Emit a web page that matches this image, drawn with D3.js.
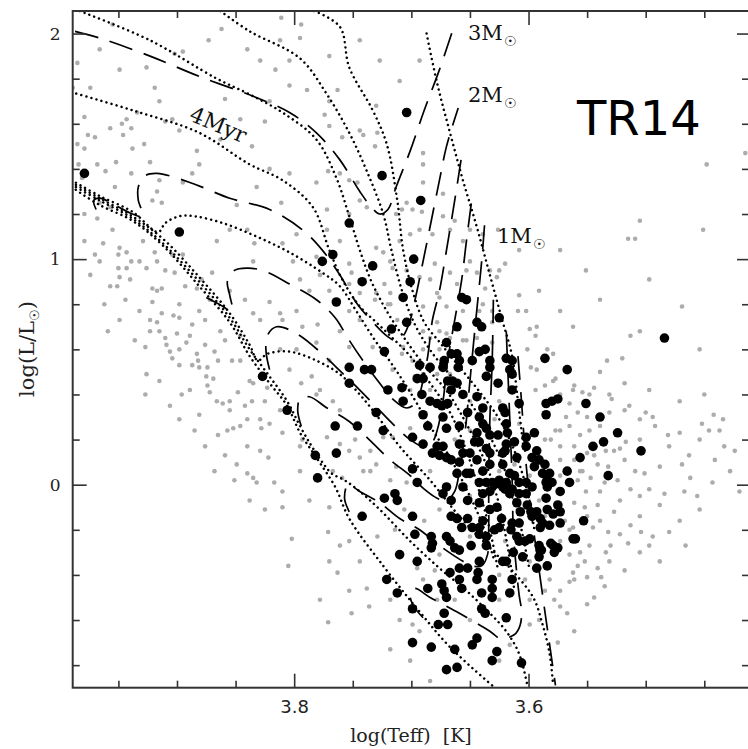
<!DOCTYPE html>
<html lang="en">
<head>
<meta charset="UTF-8">
<title>TR14 HR diagram</title>
<script src="https://d3js.org/d3.v7.min.js"></script>
<style>
  html, body { margin: 0; padding: 0; background: #fff; }
  svg { display: block; }
</style>
</head>
<body>
<div id="chart"></div>
<script>
// axis ticks
const xMajor = [3.8, 3.6];
const xMinor = [3.95, 3.9, 3.85, 3.75, 3.7, 3.65, 3.55, 3.5, 3.45];
const yMajor = [0, 1, 2];
const yMinor = [-0.8, -0.6, -0.4, -0.2, 0.2, 0.4, 0.6, 0.8, 1.2, 1.4, 1.6, 1.8];

// evolutionary tracks [logTeff, logL]
const track3 = [[3.987,2.01],[3.966,1.98],[3.923,1.90],[3.881,1.81],[3.834,1.72],[3.804,1.65],[3.781,1.56],[3.761,1.44],[3.744,1.30],[3.734,1.23],[3.727,1.20],[3.720,1.22],[3.713,1.32],[3.701,1.48],[3.689,1.66],[3.676,1.84],[3.665,2.01]];
const track2 = [[3.969,1.22],[3.971,1.26],[3.966,1.27],[3.953,1.24],[3.938,1.20],[3.929,1.19],[3.933,1.26],[3.933,1.32],[3.927,1.37],[3.917,1.38],[3.889,1.34],[3.855,1.27],[3.821,1.22],[3.793,1.13],[3.776,1.04],[3.761,0.93],[3.746,0.80],[3.731,0.71],[3.721,0.66],[3.714,0.64],[3.707,0.66],[3.701,0.73],[3.696,0.84],[3.690,0.99],[3.683,1.17],[3.676,1.35],[3.670,1.50],[3.660,1.67]];
const track15 = [[3.875,0.83],[3.864,0.80],[3.853,0.77],[3.855,0.84],[3.857,0.90],[3.851,0.95],[3.840,0.96],[3.827,0.95],[3.804,0.89],[3.781,0.82],[3.765,0.74],[3.753,0.64],[3.740,0.54],[3.727,0.45],[3.716,0.38],[3.704,0.34],[3.695,0.37],[3.691,0.44],[3.686,0.57],[3.682,0.73],[3.676,0.86],[3.670,1.04],[3.663,1.26],[3.657,1.46]];
const track12 = [[3.821,0.51],[3.824,0.59],[3.823,0.66],[3.815,0.70],[3.798,0.67],[3.776,0.58],[3.764,0.52],[3.748,0.44],[3.731,0.35],[3.714,0.26],[3.701,0.20],[3.690,0.17],[3.682,0.19],[3.678,0.24],[3.673,0.37],[3.669,0.55],[3.663,0.73],[3.657,0.91],[3.653,1.08],[3.648,1.28]];
const track10 = [[3.794,0.26],[3.797,0.33],[3.795,0.38],[3.787,0.39],[3.772,0.34],[3.753,0.28],[3.736,0.20],[3.718,0.11],[3.701,0.04],[3.689,-0.02],[3.678,-0.06],[3.670,-0.07],[3.663,-0.03],[3.659,0.06],[3.654,0.24],[3.650,0.46],[3.645,0.73],[3.640,0.99],[3.637,1.19]];
const track09 = [[3.753,-0.12],[3.757,-0.06],[3.754,0.00],[3.744,-0.03],[3.727,-0.08],[3.710,-0.15],[3.693,-0.20],[3.676,-0.27],[3.659,-0.33],[3.648,-0.36],[3.640,-0.36],[3.635,-0.31],[3.634,-0.20],[3.634,0.02],[3.633,0.29],[3.631,0.55],[3.630,0.82]];
const track08 = [[3.690,-0.59],[3.699,-0.53],[3.701,-0.48],[3.697,-0.46],[3.684,-0.50],[3.659,-0.57],[3.633,-0.65],[3.625,-0.68],[3.619,-0.68],[3.611,-0.66],[3.607,-0.62],[3.606,-0.56],[3.608,-0.49],[3.611,-0.34],[3.613,-0.20],[3.614,0.02],[3.616,0.29],[3.618,0.55],[3.619,0.68]];
const track07 = [[3.609,0.57],[3.606,0.37],[3.603,0.15],[3.599,-0.07],[3.592,-0.34],[3.585,-0.60],[3.577,-0.89]];

// isochrones [logTeff, logL]
const iso1 = [[3.687,2.00],[3.678,1.78],[3.667,1.56],[3.656,1.35],[3.644,1.14],[3.633,0.93],[3.623,0.74],[3.614,0.57],[3.609,0.37],[3.604,0.15]];
const iso2 = [[3.783,2.10],[3.761,2.03],[3.753,1.85],[3.733,1.66],[3.721,1.51],[3.712,1.26],[3.707,1.04],[3.699,0.86],[3.689,0.72],[3.674,0.62],[3.657,0.51],[3.640,0.40],[3.625,0.29],[3.612,0.15],[3.601,-0.03],[3.595,-0.20]];
const iso3 = [[3.863,2.10],[3.838,2.01],[3.795,1.89],[3.772,1.73],[3.753,1.56],[3.738,1.39],[3.724,1.20],[3.717,1.04],[3.708,0.86],[3.697,0.71],[3.683,0.59],[3.663,0.46],[3.643,0.31],[3.627,0.15],[3.614,-0.03],[3.606,-0.20],[3.599,-0.38]];
const iso4 = [[3.983,2.10],[3.923,1.97],[3.866,1.80],[3.838,1.73],[3.810,1.65],[3.781,1.53],[3.764,1.36],[3.753,1.19],[3.744,1.04],[3.734,0.90],[3.721,0.77],[3.706,0.65],[3.689,0.53],[3.669,0.41],[3.652,0.26],[3.637,0.10],[3.626,-0.07],[3.618,-0.27],[3.612,-0.47]];
const iso5 = [[3.990,1.74],[3.938,1.66],[3.881,1.56],[3.838,1.42],[3.810,1.35],[3.784,1.23],[3.770,1.04],[3.759,0.91],[3.744,0.79],[3.730,0.72],[3.716,0.65],[3.701,0.57],[3.684,0.45],[3.667,0.32],[3.653,0.15],[3.642,-0.03],[3.633,-0.20],[3.626,-0.38]];
const iso6 = [[3.990,1.35],[3.966,1.28],[3.938,1.21],[3.916,1.12],[3.910,1.16],[3.898,1.19],[3.885,1.19],[3.861,1.16],[3.832,1.10],[3.804,1.03],[3.776,0.94],[3.761,0.88],[3.747,0.77],[3.731,0.64],[3.716,0.53],[3.701,0.41],[3.684,0.26],[3.667,0.12],[3.652,-0.03],[3.639,-0.18],[3.629,-0.34]];
const iso7 = [[3.990,1.34],[3.966,1.27],[3.938,1.19],[3.912,1.09],[3.881,0.92],[3.855,0.76],[3.838,0.62],[3.831,0.55],[3.823,0.58],[3.804,0.59],[3.781,0.55],[3.761,0.49],[3.744,0.40],[3.727,0.29],[3.710,0.17],[3.684,0.02],[3.659,-0.14],[3.633,-0.28],[3.614,-0.38],[3.596,-0.50],[3.588,-0.62],[3.582,-0.75],[3.579,-0.89]];
const iso8 = [[3.990,1.33],[3.966,1.26],[3.938,1.18],[3.912,1.07],[3.881,0.90],[3.855,0.74],[3.838,0.60],[3.821,0.48],[3.806,0.37],[3.795,0.26],[3.785,0.17],[3.776,0.10],[3.768,0.05],[3.757,0.02],[3.744,-0.03],[3.727,-0.11],[3.701,-0.25],[3.676,-0.37],[3.653,-0.47],[3.633,-0.57],[3.619,-0.65],[3.608,-0.75],[3.601,-0.89]];
const zams = [[3.990,1.32],[3.966,1.24],[3.938,1.17],[3.912,1.06],[3.881,0.88],[3.855,0.72],[3.838,0.57],[3.821,0.45],[3.806,0.35],[3.795,0.23],[3.781,0.12],[3.765,-0.01],[3.753,-0.15],[3.724,-0.36],[3.695,-0.55],[3.667,-0.72],[3.631,-0.89]];

// field stars (grey) [logTeff, logL]
const fieldStars = [
[3.955,2.04],[3.862,2.02],[3.873,1.97],[3.902,1.91],[3.895,1.92],[3.985,1.87],[3.926,1.85],[3.919,1.76],[3.989,1.76],[3.974,1.76],[3.859,1.71],[3.979,1.63],[3.943,1.62],[3.934,1.65],[3.904,1.62],[3.910,1.61],[3.957,1.58],[3.947,1.60],[3.939,1.58],[3.976,1.55],[3.970,1.54],[3.985,1.51],[3.946,1.55],[3.928,1.51],[3.979,1.49],[3.938,1.49],[3.883,1.48],[3.923,1.43],[3.952,1.43],[3.968,1.42],[3.961,1.39],[3.939,1.38],[3.984,1.42],[3.887,1.38],[3.915,1.35],[3.895,1.34],[3.981,1.36],[3.953,1.32],[3.917,1.30],[3.921,1.26],[3.913,1.25],[3.849,1.24],[3.966,1.25],[3.957,1.23],[3.979,1.20],[3.968,1.18],[3.855,1.13],[3.840,1.13],[3.866,1.08],[3.955,1.13],[3.963,1.07],[3.949,1.05],[3.929,1.08],[3.840,1.93],
[3.811,2.07],[3.794,2.04],[3.795,1.98],[3.804,1.88],[3.816,1.84],[3.789,1.75],[3.763,1.75],[3.770,1.70],[3.825,1.61],[3.774,1.64],[3.770,1.59],[3.759,1.54],[3.744,1.57],[3.741,1.55],[3.730,1.68],[3.729,1.56],[3.731,1.50],[3.690,1.47],[3.690,1.42],[3.781,1.34],[3.821,1.40],[3.804,1.38],[3.836,1.50],[3.761,1.38],[3.753,1.35],[3.746,1.34],[3.772,1.22],[3.744,1.26],[3.738,1.23],[3.713,1.20],[3.708,1.22],[3.704,1.25],[3.699,1.22],[3.691,1.21],[3.690,1.34],[3.673,1.19],[3.834,1.07],[3.810,1.07],[3.798,1.11],[3.772,1.13],[3.761,1.08],[3.753,1.20],[3.701,1.11],[3.693,1.13],[3.682,1.11],[3.667,1.13],[3.663,1.17],[3.656,1.08],[3.673,1.29],[3.650,1.13],[3.639,1.11],[3.626,1.13],[3.771,1.39],[3.832,1.32],[3.811,1.25],[3.710,1.08],[3.730,1.05],
[3.710,1.79],[3.693,1.88],[3.727,1.88],[3.744,1.97],[3.770,1.90],[3.804,1.77],[3.821,1.70],[3.846,1.62],[3.863,1.53],[3.881,1.42],[3.898,1.57],[3.915,1.70],[3.949,1.84],[3.966,1.93],[3.829,1.88],[3.812,1.97],
[3.415,1.47],[3.448,1.42],[3.505,1.17],[3.515,1.09],[3.509,1.09],[3.451,1.13],
[3.650,0.99],[3.625,0.95],[3.608,1.04],[3.591,0.86],[3.573,0.77],[3.539,0.82],[3.505,0.68],[3.454,0.60],[3.497,0.91],[3.573,1.04],
[3.950,0.96],[3.943,0.96],[3.939,0.99],[3.950,1.02],[3.943,1.03],[3.926,0.96],[3.919,1.03],[3.917,0.99],[3.904,1.02],[3.895,1.02],[3.949,0.92],[3.940,0.91],[3.951,0.88],[3.921,0.87],[3.917,0.86],[3.913,0.87],[3.921,0.81],[3.902,0.94],[3.879,0.91],[3.870,0.94],[3.883,0.87],[3.898,0.80],[3.913,0.76],[3.917,0.72],[3.903,0.75],[3.898,0.74],[3.887,0.71],[3.876,0.73],[3.959,0.68],[3.927,0.61],[3.923,0.68],[3.910,0.65],[3.900,0.67],[3.909,0.62],[3.906,0.59],[3.904,0.56],[3.898,0.60],[3.892,0.63],[3.883,0.58],[3.882,0.55],[3.898,0.53],[3.887,0.53],[3.881,0.52],[3.926,0.49],[3.874,0.52],[3.875,0.48],[3.869,0.47],[3.865,0.55],[3.853,0.55],[3.846,0.55],[3.874,0.44],[3.872,0.41],[3.896,0.40],[3.866,0.37],[3.861,0.36],[3.855,0.37],[3.848,0.41],[3.881,0.31],[3.865,0.22],[3.857,0.24],[3.852,0.25],[3.846,0.26],[3.840,0.29],[3.840,0.17],[3.849,0.09],[3.840,0.05],
[3.966,0.99],[3.957,0.88],[3.944,0.82],[3.932,0.77],[3.923,0.73],[3.915,0.68],[3.936,0.64],[3.889,0.66],[3.876,0.62],[3.868,0.59],[3.859,0.64],[3.889,0.42],[3.906,0.35],[3.898,0.29],[3.885,0.24],[3.876,0.17],[3.859,0.13],[3.851,0.02],[3.868,0.06],[3.838,-0.07],[3.825,-0.11],[3.915,0.46],[3.927,0.40],[3.949,0.73],[3.962,0.80],[3.974,0.93],[3.979,1.08],[3.970,1.02],[3.932,0.99],[3.910,0.95],[3.893,0.88],[3.872,0.82],[3.855,0.86],[3.842,0.82],[3.881,0.77],[3.863,0.68],[3.846,0.66],[3.838,0.46],[3.825,0.37],[3.855,0.33],[3.842,0.35],[3.829,0.29],
[3.835,0.99],[3.801,0.99],[3.781,1.01],[3.753,0.98],[3.751,0.94],[3.724,1.03],[3.718,0.99],[3.716,0.96],[3.753,0.89],[3.778,0.93],[3.744,0.85],[3.730,0.85],[3.723,0.89],[3.718,0.85],[3.704,0.95],[3.693,0.92],[3.684,0.91],[3.680,0.98],[3.667,0.94],[3.661,0.89],[3.653,0.95],[3.644,0.94],[3.633,0.95],[3.627,0.92],[3.637,0.87],[3.678,0.85],[3.670,0.79],[3.656,0.77],[3.639,0.80],[3.631,0.77],[3.631,0.72],[3.678,0.72],[3.676,0.68],[3.690,0.68],[3.684,0.65],[3.667,0.65],[3.653,0.64],[3.644,0.65],[3.631,0.63],[3.690,0.60],[3.676,0.60],[3.821,0.81],[3.810,0.73],[3.798,0.77],[3.793,0.70],[3.780,0.71],[3.829,0.73],[3.835,0.76],[3.812,0.76],[3.753,0.61],[3.761,0.68],[3.733,0.61],[3.720,0.80],[3.712,0.73],[3.708,0.58],[3.699,0.55],[3.690,0.49],[3.678,0.49],[3.667,0.49],[3.697,0.48],[3.701,0.42],[3.798,0.60],[3.781,0.63],[3.770,0.55],[3.785,0.48],[3.835,0.45],[3.836,0.37],[3.823,0.43],[3.810,0.23],[3.793,0.20],[3.795,0.17],[3.829,0.15],[3.822,0.12],[3.835,0.03],[3.832,0.01],[3.817,0.01],[3.810,-0.03],[3.772,0.21],[3.761,0.18],[3.753,0.15],[3.744,0.12],[3.735,0.15],[3.724,0.21],[3.701,0.25],[3.767,0.06],[3.759,0.03],[3.741,0.06],[3.730,0.09],[3.713,0.08],[3.704,0.01],[3.821,0.27],[3.828,0.25],[3.812,0.33],[3.767,0.37],[3.781,0.40],[3.794,0.45],
[3.795,0.91],[3.787,0.86],[3.770,0.86],[3.753,0.77],[3.744,0.73],[3.731,0.82],[3.812,0.60],[3.804,0.51],[3.778,0.42],[3.761,0.33],[3.748,0.20],[3.735,0.06],[3.718,0.02],[3.795,0.06],[3.787,-0.07],[3.753,-0.25],[3.744,-0.34],[3.718,-0.51],[3.710,-0.60],[3.753,-0.47],[3.770,-0.34],[3.778,-0.51],[3.718,-0.73],[3.701,-0.78],[3.684,-0.87],
[3.718,0.80],[3.676,0.83],[3.690,0.79],[3.642,0.77],[3.602,0.77],[3.593,0.70],[3.579,0.58],[3.593,0.51],[3.579,0.46],[3.562,0.42],[3.625,0.37],[3.650,0.24],[3.608,0.27],[3.573,0.24],[3.716,0.21],[3.670,0.67],[3.656,0.64],[3.707,0.61],[3.716,0.51],[3.684,0.42],[3.650,0.37],[3.629,0.29],[3.663,0.20],[3.612,0.09],[3.599,0.04],[3.650,-0.05],[3.676,-0.11],[3.620,-0.25],[3.650,-0.23],[3.625,-0.40],[3.603,-0.42],[3.599,-0.51],[3.676,-0.31],[3.663,-0.51],[3.650,-0.60],[3.625,-0.51],[3.599,-0.62],[3.586,-0.47],[3.573,-0.47],[3.569,-0.16],[3.608,-0.09],[3.591,-0.07],[3.573,0.04],[3.586,0.20],[3.625,0.06],[3.684,0.06],[3.706,-0.11],[3.689,-0.16],[3.714,-0.20],[3.693,-0.65],[3.625,-0.78],[3.616,-0.71],
[3.620,0.98],[3.551,0.95],[3.608,0.84],[3.609,0.77],[3.469,0.79],[3.599,0.69],[3.562,0.70],[3.594,0.66],[3.513,0.66],[3.584,0.60],[3.601,0.60],[3.533,0.55],[3.520,0.56],[3.518,0.45],[3.598,0.52],[3.594,0.42],[3.577,0.47],[3.561,0.44],[3.565,0.36],[3.554,0.41],[3.544,0.43],[3.558,0.32],[3.568,0.30],[3.531,0.32],[3.550,0.30],[3.539,0.26],[3.505,0.29],[3.500,0.32],[3.494,0.30],[3.471,0.23],[3.452,0.27],[3.446,0.24],[3.442,0.31],[3.434,0.29],[3.481,0.22],[3.517,0.19],[3.556,0.22],[3.577,0.24],[3.581,0.20],[3.573,0.17],[3.561,0.17],[3.550,0.14],[3.534,0.15],[3.527,0.15],[3.541,0.09],[3.532,0.08],[3.518,0.11],[3.509,0.06],[3.501,0.05],[3.488,0.08],[3.469,0.09],[3.462,0.03],[3.443,0.01],[3.433,0.17],[3.561,0.11],[3.554,0.06],[3.547,0.03],[3.558,0.02],[3.551,-0.03],[3.535,0.01],[3.524,0.02],[3.513,-0.02],[3.497,-0.02],[3.484,-0.04],[3.467,-0.03],[3.456,-0.05],[3.573,0.11],
[3.548,0.40],[3.529,0.38],[3.514,0.35],[3.492,0.26],[3.480,0.17],[3.463,0.13],[3.454,0.20],[3.441,0.11],[3.428,0.06],[3.573,-0.09],[3.586,-0.14],[3.539,-0.16],[3.522,-0.22],[3.497,-0.27],[3.488,-0.34],[3.548,-0.27],[3.561,-0.42],[3.578,-0.51],[3.591,-0.60],[3.522,-0.07],[3.505,-0.05],[3.488,-0.09],[3.539,-0.03],[3.556,0.06],[3.544,0.13],[3.522,0.16],[3.505,0.20],[3.565,0.26],[3.548,0.24],[3.531,0.40],[3.518,0.33],[3.573,0.40],[3.586,0.44],[3.539,0.50],[3.497,0.42],[3.471,0.37],[3.450,0.40],[3.437,0.24],[3.424,0.15],[3.420,-0.03],[3.454,-0.11],[3.471,-0.16],[3.505,-0.14],[3.573,-0.25],[3.565,-0.20],[3.552,-0.10],[3.531,-0.34],[3.518,-0.38],[3.582,-0.42],[3.599,-0.34],
[3.810,-0.10],[3.770,-0.10],[3.802,-0.24],[3.805,-0.36],[3.771,-0.21],[3.761,-0.27],[3.763,-0.39],[3.738,-0.46],[3.736,-0.54],[3.751,-0.57],[3.771,-0.61],[3.729,-0.23],[3.695,-0.37],[3.690,-0.42],[3.680,-0.38],[3.678,-0.51],[3.699,-0.62],[3.678,-0.63],
[3.561,-0.08],[3.541,-0.09],[3.527,-0.12],[3.513,-0.18],[3.504,-0.21],[3.494,-0.23],[3.480,-0.21],[3.466,-0.27],[3.562,-0.19],[3.550,-0.14],[3.545,-0.19],[3.532,-0.21],[3.530,-0.27],[3.534,-0.30],[3.515,-0.26],[3.505,-0.30],[3.556,-0.30],[3.552,-0.34],[3.558,-0.36],[3.565,-0.31],[3.562,-0.39],[3.541,-0.37],[3.538,-0.41],[3.535,-0.45],[3.550,-0.41],[3.565,-0.43],[3.544,-0.50],[3.550,-0.53],[3.573,-0.54],[3.567,-0.57],[3.561,-0.65],[3.575,-0.70]
];

// cluster members (black) [logTeff, logL]
const members = [
[3.979,1.38],[3.898,1.12],[3.704,1.65],[3.725,1.37],[3.692,1.26],[3.753,1.16],[3.767,1.02],[3.776,0.99],[3.733,0.97],[3.698,1.00],[3.742,0.90],[3.701,0.90],[3.764,0.81],[3.827,0.48],[3.753,0.52],[3.740,0.51],[3.734,0.51],[3.753,0.45],[3.806,0.33],[3.730,0.32],[3.765,0.26],[3.746,0.26],[3.782,0.13],[3.764,0.14],[3.780,0.03],
[3.707,0.83],[3.657,0.83],[3.653,0.82],[3.704,0.72],[3.717,0.69],[3.661,0.70],[3.644,0.72],[3.640,0.70],[3.625,0.74],[3.670,0.63],[3.723,0.59],[3.666,0.58],[3.661,0.58],[3.642,0.59],[3.637,0.60],[3.672,0.55],[3.659,0.55],[3.660,0.52],[3.648,0.55],[3.633,0.55],[3.619,0.56],[3.614,0.55],[3.693,0.53],[3.586,0.56],[3.684,0.52],[3.673,0.52],[3.633,0.52],[3.616,0.51],[3.567,0.51],[3.695,0.47],[3.690,0.47],[3.669,0.46],[3.665,0.46],[3.661,0.45],[3.636,0.48],[3.626,0.45],[3.720,0.42],[3.708,0.43],[3.691,0.40],[3.666,0.42],[3.656,0.40],[3.644,0.39],[3.614,0.42],[3.707,0.37],[3.684,0.37],[3.678,0.36],[3.674,0.35],[3.669,0.36],[3.608,0.36],[3.585,0.36],[3.580,0.37],[3.575,0.38],[3.690,0.31],[3.673,0.30],[3.652,0.32],[3.639,0.34],[3.622,0.34],[3.620,0.32],[3.585,0.31],[3.686,0.26],[3.670,0.25],[3.659,0.26],[3.642,0.30],[3.639,0.27],[3.636,0.25],[3.619,0.27],[3.724,0.24],[3.699,0.21],[3.644,0.23],[3.633,0.22],[3.626,0.22],[3.618,0.23],[3.595,0.23],[3.690,0.18],[3.678,0.17],[3.673,0.17],[3.659,0.18],[3.646,0.19],[3.642,0.19],[3.619,0.18],[3.602,0.21],[3.602,0.17],[3.682,0.14],[3.676,0.13],[3.656,0.14],[3.650,0.14],[3.636,0.16],[3.633,0.14],[3.622,0.14],[3.593,0.15],[3.670,0.12],[3.666,0.11],[3.659,0.10],[3.644,0.11],[3.622,0.09],[3.610,0.12],[3.597,0.12],[3.591,0.11],[3.699,0.07],[3.695,0.01],[3.661,0.05],[3.653,0.05],[3.650,0.05],[3.639,0.06],[3.633,0.09],[3.616,0.05],[3.612,0.04],[3.588,0.05],[3.567,0.06],[3.642,0.01],[3.636,0.01],[3.631,0.01],[3.625,0.02],[3.619,0.01],[3.608,0.01],[3.602,0.01],[3.585,0.01],[3.580,0.01],[3.565,0.01],[3.670,-0.01],[3.656,-0.01],
[3.484,0.65],[3.614,0.49],[3.551,0.36],[3.539,0.30],[3.524,0.23],[3.536,0.19],[3.545,0.17],[3.504,0.15],[3.620,0.15],[3.612,0.19],[3.556,0.12],[3.586,0.09],[3.595,0.08],[3.532,0.04],[3.582,0.05],[3.573,-0.03],[3.584,-0.01],[3.614,-0.02],[3.620,-0.02],
[3.723,-0.06],[3.714,-0.04],[3.673,-0.04],[3.666,-0.07],[3.652,-0.07],[3.642,-0.08],[3.639,-0.04],[3.633,-0.03],[3.629,0.00],[3.622,-0.01],[3.597,-0.01],[3.616,-0.04],[3.608,-0.04],[3.602,-0.04],[3.610,-0.08],[3.584,0.02],[3.585,-0.06],[3.633,-0.11],[3.627,-0.10],[3.623,-0.15],[3.614,-0.17],[3.608,-0.17],[3.597,-0.14],[3.593,-0.12],[3.584,-0.11],[3.579,-0.13],[3.573,-0.12],[3.588,-0.17],[3.573,-0.17],[3.562,-0.24],[3.699,-0.14],[3.666,-0.14],[3.661,-0.15],[3.652,-0.15],[3.657,-0.19],[3.648,-0.19],[3.642,-0.19],[3.642,-0.22],[3.636,-0.23],[3.639,-0.16],[3.629,-0.20],[3.625,-0.19],[3.712,-0.07],[3.697,-0.22],[3.683,-0.23],[3.682,-0.26],[3.670,-0.23],[3.667,-0.25],[3.663,-0.28],[3.659,-0.29],[3.683,-0.28],[3.649,-0.27],[3.636,-0.27],[3.610,-0.23],[3.608,-0.25],[3.603,-0.25],[3.599,-0.24],[3.613,-0.30],[3.605,-0.32],[3.591,-0.27],[3.589,-0.29],[3.579,-0.27],[3.578,-0.30],[3.584,-0.36],[3.593,-0.37],[3.642,-0.34],[3.619,-0.34],[3.710,-0.31],[3.695,-0.34],[3.667,-0.39],[3.659,-0.37],[3.652,-0.37],[3.643,-0.39],[3.644,-0.42],[3.659,-0.42],[3.657,-0.46],[3.674,-0.44],[3.672,-0.47],[3.670,-0.50],[3.640,-0.48],[3.631,-0.42],[3.631,-0.46],[3.614,-0.42],[3.616,-0.48],[3.631,-0.50],[3.721,-0.42],[3.712,-0.48],[3.686,-0.46],[3.640,-0.55],[3.637,-0.57],[3.619,-0.59],[3.699,-0.55],[3.672,-0.57],[3.677,-0.62],[3.669,-0.62],[3.648,-0.71],[3.644,-0.68],[3.699,-0.70],[3.683,-0.72],[3.663,-0.73],[3.627,-0.74],[3.631,-0.78],[3.606,-0.79],[3.670,-0.82],[3.661,-0.81],
[3.553,-0.16],[3.560,-0.24],[3.575,-0.09],[3.582,-0.18],[3.590,-0.19],[3.581,-0.26],[3.575,-0.28],[3.590,-0.29],[3.591,-0.32],[3.622,-0.34],[3.615,-0.20],[3.590,-0.15],[3.601,-0.09],[3.598,-0.12],[3.607,-0.12],
[3.742,-0.14]
];

const tracks = [track3, track2, track15, track12, track10, track09, track08, track07];
const isochrones = [iso1, iso2, iso3, iso4, iso5, iso6, iso7, iso8, zams];

const width = 748, height = 749;
const x = d3.scaleLinear().domain([3.989, 3.411]).range([72.7, 750]);
const y = d3.scaleLinear().domain([-0.9, 2.1]).range([687.7, 11]);
const [xL, xR] = x.range();
const [yB, yT] = y.range();

const svg = d3.select("#chart").append("svg")
    .attr("width", width)
    .attr("height", height);

svg.append("clipPath").attr("id", "plotArea")
  .append("rect")
    .attr("x", xL).attr("y", yT)
    .attr("width", xR - xL).attr("height", yB - yT);

const plot = svg.append("g").attr("clip-path", "url(#plotArea)");

// grey field stars
plot.append("g").selectAll("circle")
  .data(fieldStars)
  .join("circle")
    .attr("cx", d => x(d[0]))
    .attr("cy", d => y(d[1]))
    .attr("r", 2.3)
    .attr("fill", "#acacac");

const line = d3.line()
    .x(d => x(d[0]))
    .y(d => y(d[1]))
    .curve(d3.curveCatmullRom.alpha(0.5));

// isochrones (dotted)
plot.append("g").selectAll("path")
  .data(isochrones)
  .join("path")
    .attr("d", line)
    .attr("fill", "none")
    .attr("stroke", "#000")
    .attr("stroke-width", 2.5)
    .attr("stroke-linecap", "round")
    .attr("stroke-dasharray", "0.01,5.2");

// tracks (long dashes)
plot.append("g").selectAll("path")
  .data(tracks)
  .join("path")
    .attr("d", line)
    .attr("fill", "none")
    .attr("stroke", "#000")
    .attr("stroke-width", 1.7)
    .attr("stroke-dasharray", "24,12");

// cluster members
plot.append("g").selectAll("circle")
  .data(members)
  .join("circle")
    .attr("cx", d => x(d[0]))
    .attr("cy", d => y(d[1]))
    .attr("r", 4.8)
    .attr("fill", "#000");

// axes: ticks point inward on all four sides
function styleAxis(g) {
  g.select(".domain").remove();
  g.selectAll(".tick line").attr("stroke", "#333").attr("stroke-width", 1.6);
}
svg.append("g").attr("transform", `translate(0,${yB})`)
  .call(d3.axisBottom(x).tickValues(xMajor).tickSize(-14).tickPadding(13).tickFormat(d3.format(".1f")))
  .call(styleAxis)
  .call(g => g.selectAll("text").attr("font-family", "DejaVu Sans").attr("font-size", 18).attr("fill", "#222"));
svg.append("g").attr("transform", `translate(0,${yB})`)
  .call(d3.axisBottom(x).tickValues(xMinor).tickSize(-7).tickFormat(""))
  .call(styleAxis);
svg.append("g").attr("transform", `translate(0,${yT})`)
  .call(d3.axisTop(x).tickValues(xMajor).tickSize(-14).tickFormat(""))
  .call(styleAxis);
svg.append("g").attr("transform", `translate(0,${yT})`)
  .call(d3.axisTop(x).tickValues(xMinor).tickSize(-7).tickFormat(""))
  .call(styleAxis);
svg.append("g").attr("transform", `translate(${xL},0)`)
  .call(d3.axisLeft(y).tickValues(yMajor).tickSize(-14).tickPadding(12).tickFormat(d3.format("d")))
  .call(styleAxis)
  .call(g => g.selectAll("text").attr("font-family", "DejaVu Serif").attr("font-size", 17).attr("fill", "#222"));
svg.append("g").attr("transform", `translate(${xL},0)`)
  .call(d3.axisLeft(y).tickValues(yMinor).tickSize(-7).tickFormat(""))
  .call(styleAxis);
svg.append("g").attr("transform", `translate(${width},0)`)
  .call(d3.axisRight(y).tickValues(yMajor).tickSize(-11).tickFormat(""))
  .call(styleAxis);
svg.append("g").attr("transform", `translate(${width},0)`)
  .call(d3.axisRight(y).tickValues(yMinor).tickSize(-6).tickFormat(""))
  .call(styleAxis);

// frame
svg.append("rect")
    .attr("x", xL).attr("y", yT)
    .attr("width", xR - xL).attr("height", yB - yT)
    .attr("fill", "none")
    .attr("stroke", "#333")
    .attr("stroke-width", 2);

// axis titles
svg.append("text")
    .attr("x", 411).attr("y", 742)
    .attr("text-anchor", "middle")
    .attr("font-family", "DejaVu Serif")
    .attr("font-size", 19)
    .attr("fill", "#222")
    .text("log(Teff)\u00a0\u00a0[K]");

const yTitle = svg.append("text")
    .attr("transform", "translate(34,349) rotate(-90)")
    .attr("text-anchor", "middle")
    .attr("font-family", "DejaVu Serif")
    .attr("font-size", 21)
    .attr("fill", "#222");
yTitle.append("tspan").text("log(L/L");
yTitle.append("tspan").attr("font-family", "DejaVu Sans").attr("font-size", 13).attr("dy", 5).text("\u2609");
yTitle.append("tspan").attr("dy", -5).text(")");

// mass labels
function massLabel(txt, px, py) {
  const t = svg.append("text")
      .attr("x", px).attr("y", py)
      .attr("font-family", "DejaVu Serif")
      .attr("font-size", 21)
      .attr("fill", "#111");
  t.append("tspan").text(txt);
  t.append("tspan").attr("font-family", "DejaVu Sans").attr("font-size", 14).attr("dy", 6).attr("dx", 1).text("\u2609");
}
massLabel("3M", 468, 40);
massLabel("2M", 468, 102);
massLabel("1M", 497, 243);

svg.append("text")
    .attr("transform", "translate(188,120) rotate(23)")
    .attr("font-family", "DejaVu Serif")
    .attr("font-size", 22)
    .attr("fill", "#111")
    .text("4Myr");

svg.append("text")
    .attr("x", 577).attr("y", 135)
    .attr("font-family", "DejaVu Sans")
    .attr("font-size", 48)
    .attr("fill", "#000")
    .text("TR14");
</script>
</body>
</html>
